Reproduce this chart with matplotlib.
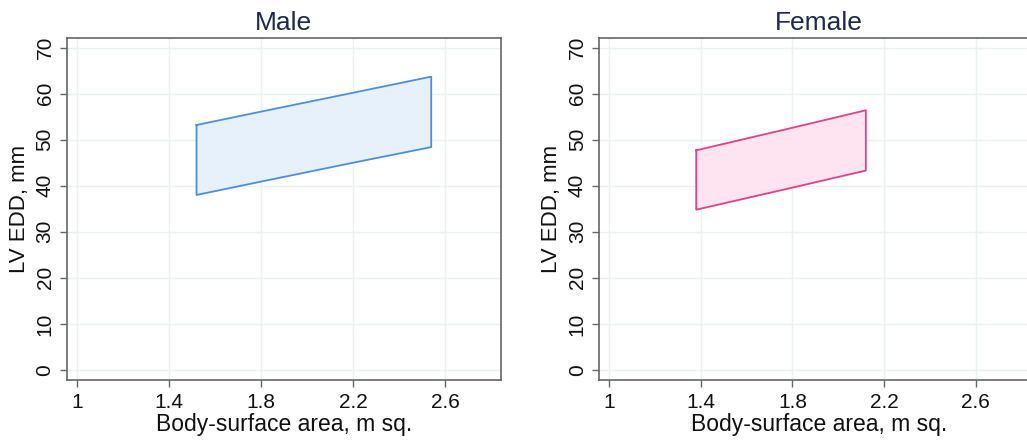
import matplotlib
matplotlib.use('Agg')
import matplotlib.pyplot as plt
import numpy as np

plt.rcParams['font.family'] = ['Liberation Sans', 'DejaVu Sans']

# reference ranges
male_bsa = [1.52, 1.8, 2.2, 2.54]
male_upper = [53.2, 56.1, 60.2, 63.7]
male_lower = [38.0, 40.9, 45.0, 48.4]

female_bsa = [1.38, 1.8, 2.12]
female_lower = [34.8, 39.6, 43.3]
female_upper = [47.7, 52.6, 56.4]

x_ticks = [1, 1.4, 1.8, 2.2, 2.6]
x_tick_labels = ['1', '1.4', '1.8', '2.2', '2.6']
y_ticks = [0, 10, 20, 30, 40, 50, 60, 70]

panels = [
    ('Male', male_bsa, male_lower, male_upper, '#4a90e2', '#e6f1fc'),
    ('Female', female_bsa, female_lower, female_upper, '#e5408a', '#fde4f0'),
]

fig = plt.figure(figsize=(10.27, 4.42), dpi=100)
ax_h = (380 - 38) / 442
# (left px, width px, x max) - right panel runs off the edge of the picture
boxes = [(67, 433.7, 2.842), (599.3, 440, 2.877)]

for (left, width, xmax), (title, bsa, lower, upper, edge, face) in zip(boxes, panels):
    ax = fig.add_axes([left / 1027, 1 - 380 / 442, width / 1027, ax_h])
    xs = np.concatenate([bsa, bsa[::-1], bsa[:1]])
    ys = np.concatenate([upper, lower[::-1], upper[:1]])
    ax.fill(xs, ys, color=face, zorder=2)
    ax.plot(xs, ys, color=edge, lw=1.3, zorder=3)

    ax.set_xlim(0.957, xmax)
    ax.set_ylim(-2.2, 72.1)
    ax.set_xticks(x_ticks)
    ax.set_xticklabels(x_tick_labels)
    ax.set_yticks(y_ticks)
    for lbl in ax.get_yticklabels():
        lbl.set_rotation(90)
        lbl.set_va('center')
    ax.tick_params(axis='both', labelsize=15, color='#666666', length=5,
                   width=1, direction='out', pad=4, labelcolor='#111111')
    ax.grid(True, color='#eaf1f2', lw=1, zorder=0)
    ax.set_axisbelow(True)
    for s in ax.spines.values():
        s.set_color('#666666')
        s.set_linewidth(1.2)
    ax.set_xlabel('Body-surface area, m sq.', fontsize=16.5, labelpad=1, color='#111111')
    ax.set_ylabel('LV EDD, mm', fontsize=16, labelpad=4, color='#111111')
    ax.set_title(title, fontsize=19, color='#1c2a4f', pad=6)

fig.savefig('out.png', dpi=100)
